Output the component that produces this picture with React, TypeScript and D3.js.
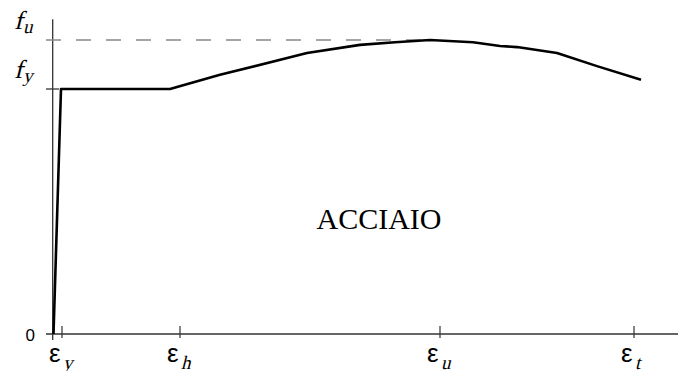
import { useRef, useEffect } from "react";
import * as d3 from "d3";

// strain in %, stress in MPa
const curveStrain = [0.02, 0.32, 4.68, 6.68, 10.16, 12.28, 13.68, 15.08, 16.8, 17.88, 18.56, 20.16, 21.76, 23.52];
const curveStress = [0, 450, 450, 476, 516, 531, 536, 540, 536, 529, 527, 516, 492, 467];

const tickStrain = [0.36, 5.08, 15.48, 23.24];
const tickSub = ["y", "h", "u", "t"];

const stressLevels = [450, 540];
const stressSub = ["y", "u"];

const SERIF = "'Liberation Serif', 'Times New Roman', Times, serif";
const SANS = "'Liberation Sans', Arial, Helvetica, sans-serif";

export default function App() {
	const svgRef = useRef(null);

	useEffect(() => {
		const width = 678,
			height = 371;
		const margin = { top: 40, right: 0, bottom: 37, left: 53 };

		const svg = d3.select(svgRef.current).attr("width", width).attr("height", height);

		const x = d3.scaleLinear().domain([0, 25]).range([margin.left, width - margin.right]);
		const y = d3.scaleLinear().domain([0, 540]).range([height - margin.bottom, margin.top]);
		const yTop = 578;
		const y0 = y(0);

		// axes
		svg.append("line")
			.attr("x1", x(0) - 0.3)
			.attr("x2", x(0) - 0.3)
			.attr("y1", y(yTop))
			.attr("y2", y0 + 6)
			.attr("stroke", "#333")
			.attr("stroke-width", 1.3);

		svg.append("line")
			.attr("x1", x(0) - 7)
			.attr("x2", width)
			.attr("y1", y0)
			.attr("y2", y0)
			.attr("stroke", "#333")
			.attr("stroke-width", 1.3);

		// fu dashed line
		const fu = stressLevels[1];
		const peakIdx = curveStress.indexOf(fu);
		svg.append("line")
			.attr("x1", x(0) - 7)
			.attr("x2", x(curveStrain[peakIdx]))
			.attr("y1", y(fu))
			.attr("y2", y(fu))
			.attr("stroke", "#888")
			.attr("stroke-width", 1.5)
			.attr("stroke-dasharray", "15,15");

		// fy tick
		svg.append("line")
			.attr("x1", x(0) - 7)
			.attr("x2", x(0) + 6)
			.attr("y1", y(stressLevels[0]))
			.attr("y2", y(stressLevels[0]))
			.attr("stroke", "#333")
			.attr("stroke-width", 1.3);

		// x ticks
		svg.selectAll(".xtick")
			.data(tickStrain)
			.enter()
			.append("line")
			.attr("class", "xtick")
			.attr("x1", (d) => x(d))
			.attr("x2", (d) => x(d))
			.attr("y1", y0 - 8)
			.attr("y2", y0 + 4)
			.attr("stroke", "#333")
			.attr("stroke-width", 1.2);

		// x tick labels: epsilon + slanted serif subscript
		svg.selectAll(".xlab")
			.data(tickStrain)
			.enter()
			.append("text")
			.attr("class", "xlab")
			.attr("x", (d) => x(d) - 13)
			.attr("y", 362)
			.style("font-family", SANS)
			.attr("font-size", 26)
			.text("ε");

		svg.selectAll(".xsub")
			.data(tickStrain)
			.enter()
			.append("text")
			.attr("class", "xsub")
			.attr("transform", (d) => `translate(${x(d) + 1},369) skewX(-14)`)
			.style("font-family", SERIF)
			.attr("font-size", 19)
			.text((d, i) => tickSub[i]);

		// zero label
		svg.append("text")
			.attr("x", 35)
			.attr("y", 341)
			.attr("text-anchor", "end")
			.style("font-family", SANS)
			.attr("font-size", 17)
			.text("0");

		// f labels (slanted serif)
		const fl = svg.selectAll(".flab")
			.data(stressLevels)
			.enter()
			.append("g")
			.attr("class", "flab")
			.attr("transform", (d) => `translate(14,${y(d) - 11}) skewX(-14)`)
			.style("font-family", SERIF);
		fl.append("text").attr("font-size", 26).text("f");
		fl.append("text")
			.attr("x", 10)
			.attr("y", 4)
			.attr("font-size", 19)
			.text((d, i) => stressSub[i]);

		// curve
		const pts = curveStrain.map((s, i) => [s, curveStress[i]]);
		const line = d3.line().x((d) => x(d[0])).y((d) => y(d[1]));
		svg.append("path")
			.datum(pts)
			.attr("d", line)
			.attr("fill", "none")
			.attr("stroke", "#000")
			.attr("stroke-width", 2.6)
			.attr("stroke-linejoin", "round");

		// label
		svg.append("text")
			.attr("x", 379)
			.attr("y", 229)
			.attr("text-anchor", "middle")
			.style("font-family", SERIF)
			.attr("font-size", 30)
			.text("ACCIAIO");

		return () => {
			d3.select(svgRef.current).selectAll("*").remove();
		};
	}, []);

	return (
		<div>
			<svg ref={svgRef} style={{ position: "absolute", left: 0, top: 0, background: "#fff" }}></svg>
		</div>
	);
}
